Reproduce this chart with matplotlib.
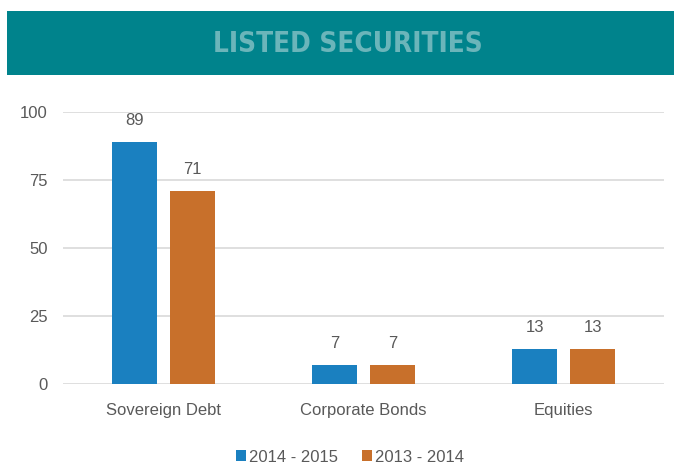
import numpy as np
import matplotlib
matplotlib.use('Agg')
import matplotlib.pyplot as plt
from matplotlib.patches import Rectangle

# Data
categories = ['Sovereign Debt', 'Corporate Bonds', 'Equities']
series_names = ['2014 - 2015', '2013 - 2014']
values_2015 = [89, 7, 13]
values_2014 = [71, 7, 13]
yticks = [0, 25, 50, 75, 100]

blue = '#1A80C0'
orange = '#C8702B'
text_gray = '#595959'

plt.rcParams['font.family'] = ['Liberation Sans', 'DejaVu Sans']

fig = plt.figure(figsize=(6.74, 4.66), dpi=100)

# Header band
fig.patches.append(Rectangle((7 / 674, 1 - 75 / 466), 1 - 7 / 674, 64 / 466,
                             transform=fig.transFigure, facecolor='#00838C',
                             edgecolor='none', zorder=0))
fig.text(348 / 674, 1 - 44 / 466, 'LISTED SECURITIES', ha='center', va='center',
         color='#6BB5BA', fontsize=20, fontweight='bold', fontstretch='condensed',
         family=['DejaVu Sans'])

ax = fig.add_axes([63 / 674, 1 - 384 / 466, 601 / 674, 272 / 466])

x = np.arange(len(categories))
w = 0.225
off = 0.145
b1 = ax.bar(x - off, values_2015, w, color=blue, label=series_names[0], zorder=3)
b2 = ax.bar(x + off, values_2014, w, color=orange, label=series_names[1], zorder=3)

for bars in (b1, b2):
    for rect in bars:
        h = rect.get_height()
        ax.annotate(f'{h:.0f}', (rect.get_x() + rect.get_width() / 2, h),
                    xytext=(0, 10), textcoords='offset points', ha='center',
                    va='bottom', fontsize=12, color=text_gray, clip_on=False)

ax.set_xlim(-0.5, 2.5)
ax.set_ylim(0, 100)
ax.set_yticks(yticks)
ax.set_xticks(x)
ax.set_xticklabels(categories)
ax.tick_params(axis='both', length=0, labelsize=12, labelcolor=text_gray)
ax.tick_params(axis='y', pad=11)
ax.tick_params(axis='x', pad=14)
ax.yaxis.grid(True, color='#D9D9D9', linewidth=1.2, zorder=0)
ax.set_axisbelow(True)
for s in ax.spines.values():
    s.set_visible(False)
for lbl in ax.get_yticklabels():
    lbl.set_clip_on(False)

leg = fig.legend(handles=[b1, b2], labels=series_names, loc='center',
                 bbox_to_anchor=(350 / 674, 1 - 457 / 466), ncol=2, frameon=False,
                 fontsize=12, handlelength=0.6, handleheight=0.6,
                 handletextpad=0.2, columnspacing=1.4)
for t in leg.get_texts():
    t.set_color(text_gray)

fig.savefig('out.png', dpi=100)
